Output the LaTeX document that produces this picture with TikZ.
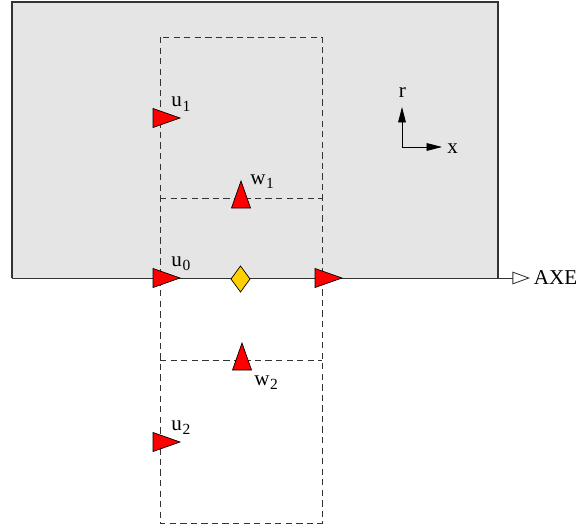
\documentclass[tikz,border=0pt]{standalone}
\usepackage{fontspec}
\setmainfont{Liberation Serif}
\usetikzlibrary{arrows.meta}
\newcommand\indice[2]{#1\kern0.5pt\raisebox{-3.5pt}{\fontsize{11}{11}\selectfont #2}}

\begin{document}
\begin{tikzpicture}[x=0.025cm,y=-0.025cm,
    lab/.style={font=\fontsize{15}{17}\selectfont,inner sep=0pt,anchor=base west},
    flecha/.style={fill=red,draw=black,line width=0.5pt},
    trazo/.style={dash pattern=on 4.5pt off 3pt,line width=0.7pt,draw=black!80}]

    \def\lfl{27}%Largo flecha
    \def\afl{9.5}%Media base flecha

    \useasboundingbox (0,0) rectangle (576,525);

    %Dominio
    \filldraw[fill=gray!20,draw=black!80,line width=0.8pt] (12,278)--(12,2)--(498,2)--(498,278);

    %Celdas
    \draw[trazo] (160,37) rectangle (322,523);
    \draw[trazo] (160,198)--(322,198);
    \draw[trazo] (160,360)--(322,360);

    %Eje
    \coordinate (ejeA) at (12,278);
    \node[lab,anchor=west,inner xsep=2.5pt] (axe) at (530,278) {AXE};
    \draw[line width=0.7pt,black!80,-{Triangle[open,length=12.5pt,width=9pt,line width=0.6pt]}] (ejeA)--(axe.west);

    %Velocidades u
    \foreach \x/\y in {153/118,153/278,315/278,153/442}
        \filldraw[flecha] (\x,\y-\afl)--(\x+\lfl,\y)--(\x,\y+\afl)--cycle;
    %Velocidades w
    \foreach \x/\y in {241/208,242/370}
        \filldraw[flecha] (\x-\afl,\y)--(\x,\y-\lfl)--(\x+\afl,\y)--cycle;
    %Presion
    \filldraw[fill={rgb,255:red,255;green,208;blue,0},draw=black,line width=0.5pt]
        (240.5,266)--(250,279)--(240.5,292)--(231,279)--cycle;

    \node[lab] (u1) at (171,107) {\indice{u}{1}};
    \node[lab] (u0) at (171,266) {\indice{u}{0}};
    \node[lab] (w1) at (250,184) {\indice{w}{1}};
    \node[lab] (w2) at (254,385) {\indice{w}{2}};
    \node[lab] (u2) at (171,430) {\indice{u}{2}};

    %Ejes r-x
    \coordinate (origen) at (402,147);
    \coordinate (puntar) at (402,107);
    \coordinate (puntax) at (442,147);
    \draw[line width=0.6pt,-{Triangle[length=11pt,width=5.5pt]}] (origen)--(puntar);
    \draw[line width=0.6pt,-{Triangle[length=11pt,width=5.5pt]}] (origen)--(puntax);
    \node[lab,anchor=base] (r) at (402.5,98) {r};
    \node[lab] (x) at (447,153) {x};

\end{tikzpicture}
\end{document}
